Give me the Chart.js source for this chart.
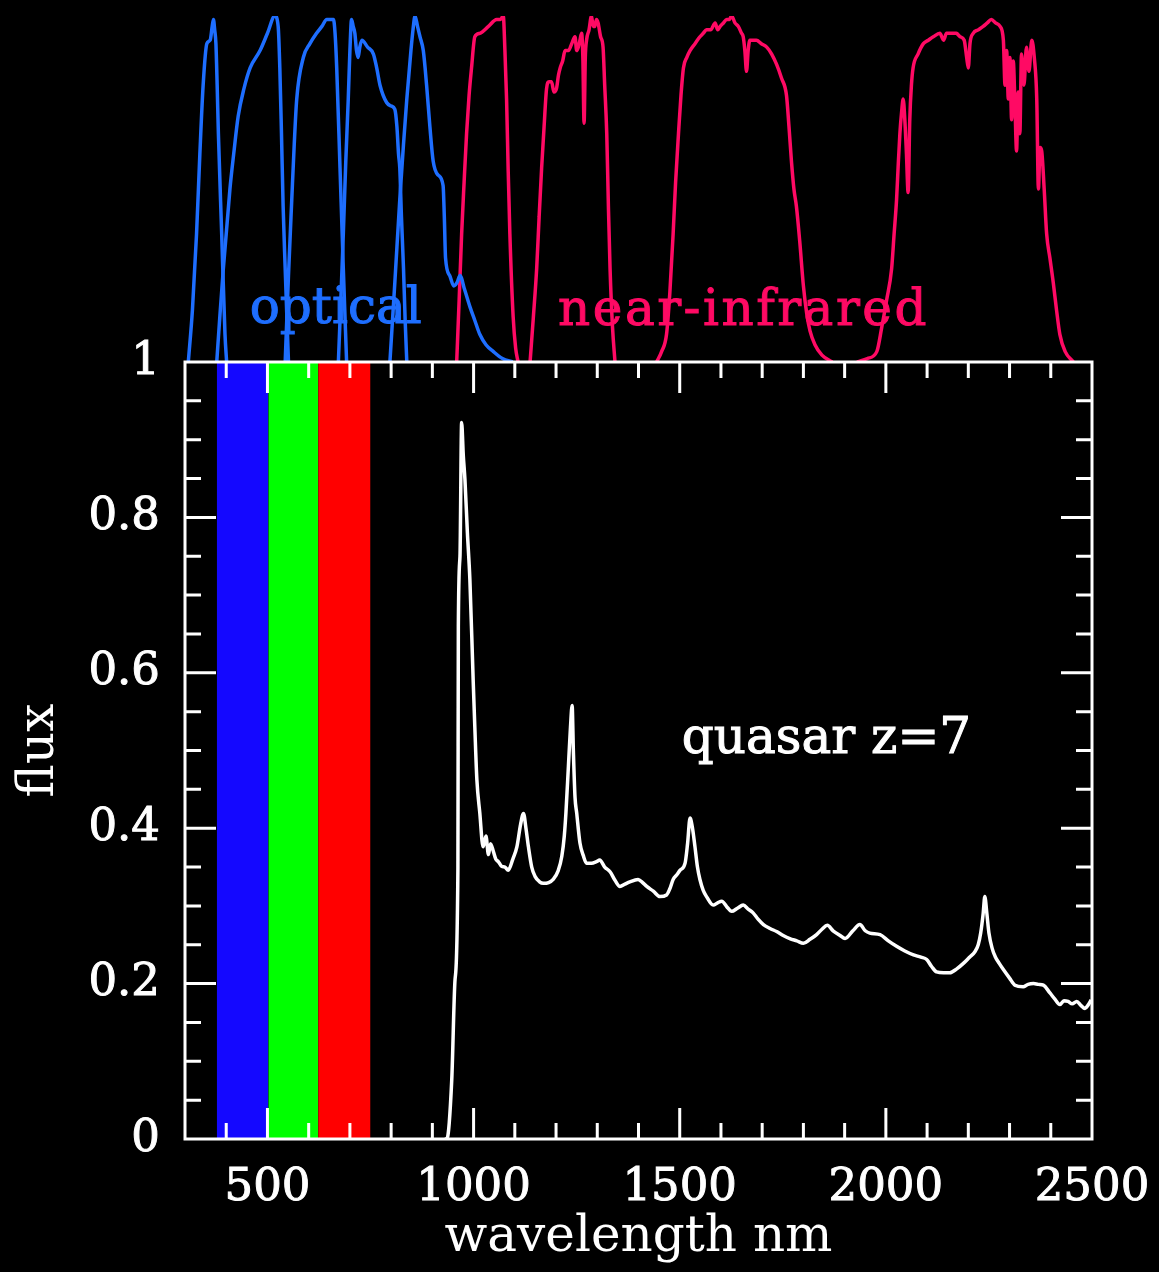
<!DOCTYPE html>
<html lang="en">
<head>
  <meta charset="UTF-8">
  <title>quasar z=7 with optical and near-infrared filters</title>
  <script src="https://cdn.jsdelivr.net/npm/chart.js"></script>
  <style>
    html, body { margin: 0; padding: 0; background: #000; }
    #wrap { width: 1159px; height: 1272px; position: relative; }
  </style>
</head>
<body>
  <div id="wrap"><canvas id="chart"></canvas></div>

  <script>
    // axis ticks
    const xTicks = [500, 1000, 1500, 2000, 2500];
    const yTicks = [0, 0.2, 0.4, 0.6, 0.8, 1];
    const xMinorStep = 100;
    const yMinorStep = 0.05;

    // colour bands (nm edges)
    const bandEdges = [377, 502, 623, 750];
    const bandColors = ['#1408ff', '#00ff00', '#ff0000'];

    // quasar spectrum
    const specWave = [930, 935, 947, 955, 962, 963, 967, 971, 975, 979, 985, 991, 999, 1003, 1008,
      1015, 1023, 1030, 1036, 1041, 1048, 1054, 1060, 1068, 1076, 1084, 1095, 1105, 1114, 1121,
      1127, 1133, 1141, 1149, 1160, 1169, 1182, 1193, 1205, 1214, 1220, 1224, 1230, 1235, 1239,
      1242, 1246, 1250, 1258, 1266, 1274, 1286, 1298, 1306, 1318, 1331, 1343, 1355, 1367, 1379,
      1399, 1410, 1420, 1436, 1452, 1468, 1476, 1484, 1493, 1501, 1513, 1519, 1525, 1531, 1537,
      1543, 1549, 1557, 1565, 1581, 1592, 1602, 1614, 1626, 1640, 1654, 1666, 1678, 1690, 1703,
      1719, 1735, 1751, 1767, 1784, 1800, 1816, 1832, 1845, 1858, 1872, 1889, 1901, 1920, 1937,
      1950, 1961, 1986, 2006, 2026, 2046, 2067, 2085, 2099, 2111, 2123, 2140, 2155, 2172, 2188,
      2203, 2216, 2224, 2230, 2236, 2240, 2245, 2250, 2258, 2265, 2275, 2285, 2300, 2313, 2333,
      2345, 2358, 2370, 2382, 2398, 2410, 2422, 2432, 2442, 2452, 2463, 2473, 2483, 2490, 2498];
    const specFlux = [0, 0, 0.076, 0.205, 0.35, 0.66, 0.75, 0.922, 0.88, 0.849, 0.78, 0.72, 0.59, 0.53, 0.462,
      0.42, 0.376, 0.39, 0.366, 0.38, 0.37, 0.36, 0.357, 0.351, 0.35, 0.346, 0.36, 0.376, 0.405, 0.419,
      0.40, 0.376, 0.35, 0.338, 0.331, 0.329, 0.33, 0.334, 0.345, 0.364, 0.39, 0.42, 0.48, 0.53, 0.558,
      0.50, 0.44, 0.42, 0.381, 0.365, 0.355, 0.355, 0.357, 0.359, 0.35, 0.344, 0.333, 0.325, 0.328, 0.331,
      0.334, 0.33, 0.325, 0.319, 0.312, 0.314, 0.322, 0.334, 0.34, 0.346, 0.355, 0.38, 0.413, 0.40, 0.376,
      0.35, 0.334, 0.32, 0.312, 0.301, 0.304, 0.306, 0.299, 0.293, 0.297, 0.301, 0.296, 0.291, 0.283, 0.276,
      0.271, 0.267, 0.262, 0.258, 0.255, 0.252, 0.257, 0.263, 0.27, 0.275, 0.268, 0.262, 0.258, 0.268, 0.276,
      0.268, 0.265, 0.263, 0.255, 0.248, 0.242, 0.237, 0.234, 0.231, 0.222, 0.215, 0.214, 0.214, 0.219, 0.226,
      0.234, 0.241, 0.25, 0.265, 0.29, 0.312, 0.29, 0.265, 0.245, 0.235, 0.226, 0.218, 0.207, 0.198, 0.196,
      0.199, 0.2, 0.199, 0.198, 0.188, 0.18, 0.173, 0.178, 0.177, 0.174, 0.177, 0.172, 0.168, 0.172, 0.179];

    // filter transmission curves [nm, T]
    const filterU = [[308,0],[318,0.15],[328,0.37],[336,0.6],[344,0.8],[353,0.92],[361,0.93],[366,0.97],
      [369,0.99],[372,0.96],[375,0.92],[378,0.8],[381,0.66],[389,0.37],[397,0.08],[401,0]];
    const filterG = [[377,0],[385,0.14],[393,0.27],[409,0.5],[418,0.6],[429,0.71],[443,0.79],[458,0.85],
      [482,0.9],[500,0.95],[518,1.0],[526,0.97],[530,0.85],[534,0.66],[538,0.45],[543,0.27],[551,0]];
    const filterR = [[543,0],[551,0.25],[559,0.47],[565,0.63],[571,0.76],[587,0.88],[603,0.92],[619,0.95],
      [632,0.97],[644,0.99],[660,0.99],[664,0.95],[668,0.85],[676,0.56],[684,0.27],[692,0]];
    const filterI = [[672,0],[678,0.18],[684,0.37],[690,0.58],[696,0.76],[700,0.9],[704,0.99],[708,0.97],
      [712,0.95],[716,0.9],[720,0.88],[724,0.91],[729,0.93],[743,0.91],[757,0.89],[765,0.85],[773,0.8],
      [789,0.75],[800,0.74],[809,0.73],[814,0.68],[818,0.6],[821,0.56],[825,0.42],[830,0.27],[834,0.12],[838,0]];
    const filterZ = [[797,0],[809,0.23],[821,0.47],[830,0.63],[838,0.76],[848,0.9],[853,0.96],[858,1.0],
      [864,0.97],[870,0.94],[878,0.9],[886,0.8],[894,0.68],[902,0.58],[914,0.54],[926,0.51],[929,0.42],
      [932,0.3],[942,0.25],[952,0.22],[960,0.23],[967,0.25],[978,0.21],[991,0.16],[1003,0.12],[1015,0.08],
      [1030,0.05],[1048,0.03],[1070,0.01],[1095,0]];
    const filterY = [[959,0],[965,0.18],[971,0.37],[977,0.52],[983,0.66],[989,0.77],[995,0.85],[1003,0.94],
      [1015,0.95],[1036,0.97],[1056,0.99],[1065,0.99],[1072,1.0],[1076,0.9],[1080,0.76],[1084,0.55],
      [1088,0.37],[1096,0.13],[1102,0.04],[1108,0]];
    const filterJ = [[1137,0],[1145,0.13],[1153,0.27],[1159,0.42],[1165,0.56],[1171,0.68],[1177,0.79],
      [1183,0.81],[1189,0.81],[1195,0.78],[1201,0.79],[1206,0.83],[1210,0.85],[1216,0.87],[1222,0.9],
      [1230,0.9],[1238,0.92],[1246,0.94],[1250,0.9],[1254,0.91],[1258,0.93],[1262,0.95],[1265,0.88],
      [1268,0.69],[1271,0.88],[1274,0.93],[1280,0.96],[1286,1.0],[1290,0.97],[1294,0.97],[1298,0.99],
      [1302,0.98],[1308,0.94],[1314,0.91],[1318,0.8],[1323,0.66],[1327,0.45],[1331,0.27],[1337,0.1],[1343,0]];
    const filterH = [[1444,0],[1456,0.03],[1468,0.08],[1476,0.2],[1484,0.37],[1490,0.52],[1497,0.66],
      [1503,0.77],[1509,0.85],[1517,0.88],[1525,0.9],[1537,0.92],[1549,0.94],[1557,0.95],[1565,0.96],
      [1575,0.96],[1586,0.98],[1592,0.96],[1598,0.97],[1606,0.98],[1614,0.99],[1620,0.99],[1626,1.0],
      [1634,0.98],[1642,0.97],[1650,0.95],[1654,0.94],[1658,0.9],[1662,0.84],[1666,0.9],[1670,0.93],
      [1686,0.93],[1698,0.92],[1711,0.91],[1723,0.89],[1735,0.86],[1747,0.82],[1759,0.77],[1765,0.68],
      [1771,0.58],[1777,0.5],[1783,0.45],[1791,0.35],[1800,0.22],[1808,0.14],[1816,0.09],[1828,0.05],
      [1845,0.02],[1870,0]];
    const filterK = [[1930,0],[1955,0.01],[1978,0.03],[1990,0.1],[2002,0.18],[2014,0.27],[2020,0.37],
      [2026,0.47],[2030,0.57],[2034,0.66],[2038,0.72],[2042,0.76],[2046,0.7],[2050,0.6],[2054,0.49],
      [2058,0.7],[2062,0.8],[2066,0.85],[2078,0.89],[2091,0.92],[2103,0.93],[2115,0.94],[2131,0.95],
      [2140,0.93],[2147,0.95],[2160,0.95],[2171,0.95],[2180,0.94],[2190,0.93],[2196,0.88],[2200,0.85],
      [2204,0.92],[2212,0.95],[2224,0.96],[2236,0.97],[2246,0.98],[2256,0.99],[2266,0.98],[2277,0.97],
      [2285,0.93],[2289,0.8],[2293,0.9],[2297,0.76],[2301,0.88],[2305,0.7],[2309,0.87],[2313,0.75],
      [2317,0.61],[2321,0.78],[2325,0.66],[2329,0.89],[2335,0.8],[2341,0.91],[2347,0.84],[2354,0.93],
      [2360,0.88],[2366,0.76],[2370,0.5],[2374,0.62],[2378,0.61],[2384,0.5],[2390,0.37],[2398,0.3],
      [2406,0.23],[2414,0.15],[2422,0.08],[2435,0.03],[2455,0]];

    const opticalFilters = [filterU, filterG, filterR, filterI, filterZ];
    const nirFilters = [filterY, filterJ, filterH, filterK];

    const blue = '#1e6eff';
    const pink = '#ff0a64';

    // text labels: [text, nm, value, axis, colour, letter spacing]
    const textLabels = [
      ['optical', 457, 0.113, 'yf', blue, 0],
      ['near-infrared', 1205, 0.107, 'yf', pink, 2.5],
      ['quasar z=7', 1505, 0.497, 'y', '#fff', 0]
    ];

    const FONT = "'DejaVu Serif', serif";
    Chart.defaults.font.family = FONT;

    const toPts = arr => arr.map(p => ({ x: p[0], y: p[1] }));

    const datasets = [];
    datasets.push({
      data: specWave.map((w, i) => ({ x: w, y: specFlux[i] })),
      yAxisID: 'y', borderColor: '#fff', borderWidth: 3.5, pointRadius: 0,
      cubicInterpolationMode: 'monotone'
    });
    opticalFilters.forEach(f => datasets.push({
      data: toPts(f), yAxisID: 'yf', borderColor: blue, borderWidth: 3.5, pointRadius: 0,
      cubicInterpolationMode: 'monotone'
    }));
    nirFilters.forEach(f => datasets.push({
      data: toPts(f), yAxisID: 'yf', borderColor: pink, borderWidth: 3.5, pointRadius: 0,
      cubicInterpolationMode: 'monotone'
    }));
    bandColors.forEach((c, i) => datasets.push({
      data: [{ x: bandEdges[i], y: 1 }, { x: bandEdges[i + 1], y: 1 }],
      yAxisID: 'y', borderColor: 'rgba(0,0,0,0)', borderWidth: 0, pointRadius: 0,
      backgroundColor: c, fill: 'origin'
    }));

    // frame with inward ticks on all four sides
    const frameTicks = {
      id: 'frameTicks',
      afterDatasetsDraw(chart) {
        const { ctx } = chart;
        const xs = chart.scales.x, ys = chart.scales.y;
        const L = xs.left, R = xs.right, T = ys.top, B = ys.bottom;
        ctx.save();
        ctx.strokeStyle = '#fff';
        ctx.lineWidth = 3;
        ctx.beginPath();
        const nx = Math.round((xs.max - xs.min) / xMinorStep);
        for (let i = 1; i < nx; i++) {
          const v = xs.min + i * xMinorStep;
          const px = xs.getPixelForValue(v);
          const len = xTicks.includes(v) ? 31 : 16;
          ctx.moveTo(px, B); ctx.lineTo(px, B - len);
          ctx.moveTo(px, T); ctx.lineTo(px, T + len);
        }
        const ny = Math.round((ys.max - ys.min) / yMinorStep);
        for (let i = 1; i < ny; i++) {
          const py = ys.getPixelForValue(ys.min + i * yMinorStep);
          const len = i % 4 === 0 ? 31 : 16;
          ctx.moveTo(L, py); ctx.lineTo(L + len, py);
          ctx.moveTo(R, py); ctx.lineTo(R - len, py);
        }
        ctx.stroke();
        ctx.strokeRect(L, T, R - L, B - T);
        ctx.restore();
      }
    };

    const plotText = {
      id: 'plotText',
      afterDatasetsDraw(chart) {
        const { ctx } = chart;
        ctx.save();
        ctx.font = '50px ' + FONT;
        ctx.textAlign = 'left';
        ctx.textBaseline = 'alphabetic';
        ctx.lineWidth = 1;
        textLabels.forEach(([txt, wx, val, axis, col, sp]) => {
          const px = chart.scales.x.getPixelForValue(wx);
          const py = chart.scales[axis].getPixelForValue(val);
          ctx.fillStyle = col;
          ctx.strokeStyle = col;
          ctx.letterSpacing = sp + 'px';
          ctx.fillText(txt, px, py);
          ctx.strokeText(txt, px, py);
        });
        ctx.restore();
      }
    };

    new Chart(document.getElementById('chart'), {
      type: 'line',
      data: { datasets },
      plugins: [frameTicks, plotText],
      options: {
        responsive: true,
        maintainAspectRatio: false,
        animation: false,
        layout: { padding: { top: 16, right: 67, bottom: 0, left: 0 } },
        plugins: { legend: { display: false }, tooltip: { enabled: false } },
        scales: {
          x: {
            type: 'linear', min: 300, max: 2500,
            afterBuildTicks: s => { s.ticks = xTicks.map(v => ({ value: v })); },
            afterFit: s => { s.height = 133; s.paddingLeft = 0; s.paddingRight = 0; },
            grid: { display: false, drawTicks: false },
            border: { display: false },
            ticks: { color: '#fff', font: { size: 45 }, padding: 22, maxRotation: 0, autoSkip: false,
              textStrokeColor: '#fff', textStrokeWidth: 1, callback: v => String(v) },
            title: { display: true, text: 'wavelength nm', color: '#fff', font: { size: 50 },
              padding: { top: 0, bottom: 4 } }
          },
          y: {
            type: 'linear', min: 0, max: 1, position: 'left',
            stack: 'panels', stackWeight: 777, weight: 0,
            afterBuildTicks: s => { s.ticks = yTicks.map(v => ({ value: v })); },
            afterFit: s => { s.width = 185; s.paddingTop = 0; s.paddingBottom = 0; },
            grid: { display: false, drawTicks: false },
            border: { display: false },
            ticks: { color: '#fff', font: { size: 45 }, padding: 25,
              textStrokeColor: '#fff', textStrokeWidth: 1, callback: v => String(v) },
            title: { display: true, text: 'flux', color: '#fff', font: { size: 50 },
              padding: { top: 10, bottom: 0 } }
          },
          yf: {
            type: 'linear', min: 0, max: 1, position: 'left',
            stack: 'panels', stackWeight: 346, weight: 1,
            afterFit: s => { s.width = 185; s.paddingTop = 0; s.paddingBottom = 0; },
            grid: { display: false, drawTicks: false },
            border: { display: false },
            ticks: { display: false }
          }
        }
      }
    });
  </script>
</body>
</html>
